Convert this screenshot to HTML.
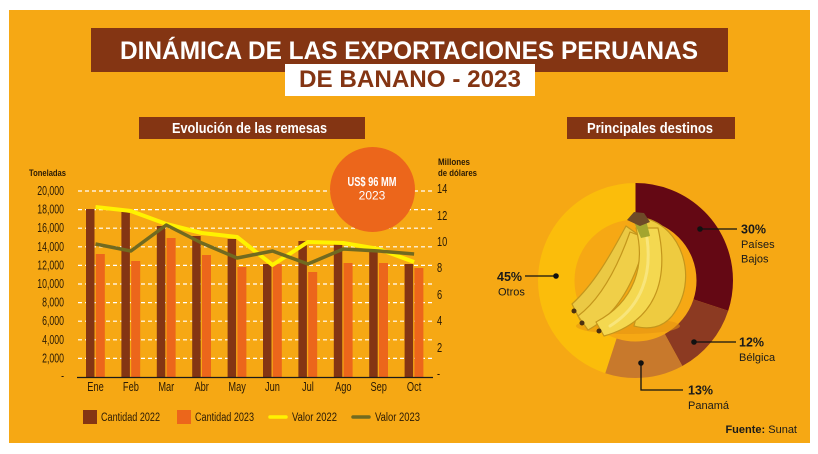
<!DOCTYPE html>
<html><head><meta charset="utf-8"><style>
html,body{margin:0;padding:0;background:#fff;}
svg{display:block;}
.n{font-family:"Liberation Sans Narrow","Liberation Sans",sans-serif;}
.s{font-family:"Liberation Sans",sans-serif;}
</style></head><body>
<svg width="818" height="454" viewBox="0 0 818 454" xmlns="http://www.w3.org/2000/svg">
<rect x="0" y="0" width="818" height="454" fill="#ffffff"/>
<rect x="9" y="10" width="801" height="433" fill="#f6a814"/>

<!-- Title -->
<rect x="91" y="28" width="637" height="44" fill="#843513"/>
<rect x="285" y="64" width="250" height="32" fill="#ffffff"/>
<text x="120" y="59" class="s" font-size="25" font-weight="bold" fill="#ffffff" textLength="578" lengthAdjust="spacingAndGlyphs">DINÁMICA DE LAS EXPORTACIONES PERUANAS</text>
<text x="299" y="87" class="s" font-size="24" font-weight="bold" fill="#843513" textLength="222" lengthAdjust="spacingAndGlyphs">DE BANANO - 2023</text>

<!-- Subtitles -->
<rect x="139" y="117" width="226" height="22" fill="#843513"/>
<text x="172" y="133" class="n" font-size="15" font-weight="bold" fill="#ffffff" textLength="155" lengthAdjust="spacingAndGlyphs">Evolución de las remesas</text>
<rect x="567" y="117" width="168" height="22" fill="#843513"/>
<text x="587" y="133" class="n" font-size="15" font-weight="bold" fill="#ffffff" textLength="126" lengthAdjust="spacingAndGlyphs">Principales destinos</text>

<!-- Axis titles -->
<text x="29" y="176" class="n" font-size="9.5" font-weight="bold" fill="#2a1a05" textLength="37" lengthAdjust="spacingAndGlyphs">Toneladas</text>
<text x="438" y="165" class="n" font-size="9.5" font-weight="bold" fill="#2a1a05" textLength="32" lengthAdjust="spacingAndGlyphs">Millones</text>
<text x="438" y="176" class="n" font-size="9.5" font-weight="bold" fill="#2a1a05" textLength="39" lengthAdjust="spacingAndGlyphs">de dólares</text>

<!-- Gridlines -->
<g stroke="#ffffff" stroke-width="1.2" stroke-dasharray="4 3">
<line x1="78" y1="191" x2="433" y2="191"/>
<line x1="78" y1="209.6" x2="433" y2="209.6"/>
<line x1="78" y1="228.2" x2="433" y2="228.2"/>
<line x1="78" y1="246.8" x2="433" y2="246.8"/>
<line x1="78" y1="265.4" x2="433" y2="265.4"/>
<line x1="78" y1="284" x2="433" y2="284"/>
<line x1="78" y1="302.6" x2="433" y2="302.6"/>
<line x1="78" y1="321.2" x2="433" y2="321.2"/>
<line x1="78" y1="339.8" x2="433" y2="339.8"/>
<line x1="78" y1="358.4" x2="433" y2="358.4"/>
</g>

<!-- Left axis labels -->
<g class="s" font-size="12.5" fill="#2a1a05" text-anchor="end">
<text transform="translate(64 195) scale(0.7 1)">20,000</text>
<text transform="translate(64 213.6) scale(0.7 1)">18,000</text>
<text transform="translate(64 232.2) scale(0.7 1)">16,000</text>
<text transform="translate(64 250.8) scale(0.7 1)">14,000</text>
<text transform="translate(64 269.4) scale(0.7 1)">12,000</text>
<text transform="translate(64 288) scale(0.7 1)">10,000</text>
<text transform="translate(64 306.6) scale(0.7 1)">8,000</text>
<text transform="translate(64 325.2) scale(0.7 1)">6,000</text>
<text transform="translate(64 343.8) scale(0.7 1)">4,000</text>
<text transform="translate(64 362.4) scale(0.7 1)">2,000</text>
<text transform="translate(64 380) scale(0.7 1)">-</text>
</g>
<!-- Right axis labels -->
<g class="s" font-size="12.5" fill="#2a1a05">
<text transform="translate(437 193) scale(0.74 1)">14</text>
<text transform="translate(437 220) scale(0.74 1)">12</text>
<text transform="translate(437 246) scale(0.74 1)">10</text>
<text transform="translate(437 272) scale(0.74 1)">8</text>
<text transform="translate(437 299) scale(0.74 1)">6</text>
<text transform="translate(437 325) scale(0.74 1)">4</text>
<text transform="translate(437 352) scale(0.74 1)">2</text>
<text transform="translate(437 378) scale(0.74 1)">-</text>
</g>

<!-- Bars -->
<g fill="#843513">
<rect x="86" y="209" width="8.5" height="168"/>
<rect x="121.4" y="212" width="8.5" height="165"/>
<rect x="156.8" y="226" width="8.5" height="151"/>
<rect x="192.2" y="236" width="8.5" height="141"/>
<rect x="227.6" y="239" width="8.5" height="138"/>
<rect x="263" y="264" width="8.5" height="113"/>
<rect x="298.4" y="241" width="8.5" height="136"/>
<rect x="333.8" y="244" width="8.5" height="133"/>
<rect x="369.2" y="250" width="8.5" height="127"/>
<rect x="404.6" y="264" width="8.5" height="113"/>
</g>
<g fill="#ec661b">
<rect x="95.8" y="254" width="9" height="123"/>
<rect x="131.2" y="261" width="9" height="116"/>
<rect x="166.6" y="238" width="9" height="139"/>
<rect x="202" y="255" width="9" height="122"/>
<rect x="237.4" y="267" width="9" height="110"/>
<rect x="272.8" y="264" width="9" height="113"/>
<rect x="308.2" y="272" width="9" height="105"/>
<rect x="343.6" y="263" width="9" height="114"/>
<rect x="379" y="263" width="9" height="114"/>
<rect x="414.4" y="268" width="9" height="109"/>
</g>

<!-- Axis line -->
<line x1="77" y1="377.5" x2="433" y2="377.5" stroke="#1a1a1a" stroke-width="1.3"/>

<!-- Lines -->
<polyline fill="none" stroke="#fff200" stroke-width="4" stroke-linejoin="round" points="95.5,207 130.9,211 166.3,224 201.7,233 237.1,237 272.5,265 307.9,242 343.3,243 378.7,249 414.1,262"/>
<polyline fill="none" stroke="#716a20" stroke-width="3.5" stroke-linejoin="round" points="95.5,244 130.9,251 166.3,225 201.7,243 237.1,258 272.5,251 307.9,264 343.3,249 378.7,251 414.1,254"/>

<!-- Month labels -->
<g class="s" font-size="12.5" fill="#2a1a05" text-anchor="middle">
<text transform="translate(95.5 391) scale(0.74 1)">Ene</text>
<text transform="translate(130.9 391) scale(0.74 1)">Feb</text>
<text transform="translate(166.3 391) scale(0.74 1)">Mar</text>
<text transform="translate(201.7 391) scale(0.74 1)">Abr</text>
<text transform="translate(237.1 391) scale(0.74 1)">May</text>
<text transform="translate(272.5 391) scale(0.74 1)">Jun</text>
<text transform="translate(307.9 391) scale(0.74 1)">Jul</text>
<text transform="translate(343.3 391) scale(0.74 1)">Ago</text>
<text transform="translate(378.7 391) scale(0.74 1)">Sep</text>
<text transform="translate(414.1 391) scale(0.74 1)">Oct</text>
</g>

<!-- Circle callout -->
<circle cx="372.5" cy="189.5" r="42.5" fill="#ec661b"/>
<text x="372" y="186" class="n" font-size="13" font-weight="bold" fill="#ffffff" text-anchor="middle" textLength="49" lengthAdjust="spacingAndGlyphs">US$ 96 MM</text>
<text x="372" y="199.5" class="n" font-size="12" fill="#ffffff" text-anchor="middle">2023</text>

<!-- Legend -->
<rect x="83" y="410" width="14" height="14" fill="#843513"/>
<text x="101" y="421" class="n" font-size="11.5" fill="#2a1a05" textLength="59" lengthAdjust="spacingAndGlyphs">Cantidad 2022</text>
<rect x="177" y="410" width="14" height="14" fill="#ec661b"/>
<text x="195" y="421" class="n" font-size="11.5" fill="#2a1a05" textLength="59" lengthAdjust="spacingAndGlyphs">Cantidad 2023</text>
<line x1="270" y1="417" x2="286" y2="417" stroke="#fff200" stroke-width="3.5" stroke-linecap="round"/>
<text x="292" y="421" class="n" font-size="11.5" fill="#2a1a05" textLength="45" lengthAdjust="spacingAndGlyphs">Valor 2022</text>
<line x1="353" y1="417" x2="369" y2="417" stroke="#716a20" stroke-width="3.5" stroke-linecap="round"/>
<text x="375" y="421" class="n" font-size="11.5" fill="#2a1a05" textLength="45" lengthAdjust="spacingAndGlyphs">Valor 2023</text>

<!-- Donut -->
<g transform="rotate(-90 635.5 280.5)" fill="none" stroke-width="36.5">
<circle cx="635.5" cy="280.5" r="79.25" stroke="#fbbd0b" stroke-dasharray="224.1 273.85" stroke-dashoffset="-273.85"/>
<circle cx="635.5" cy="280.5" r="79.25" stroke="#640814" stroke-dasharray="149.4 348.55" stroke-dashoffset="0"/>
<circle cx="635.5" cy="280.5" r="79.25" stroke="#8c3a22" stroke-dasharray="59.75 438.2" stroke-dashoffset="-149.4"/>
<circle cx="635.5" cy="280.5" r="79.25" stroke="#c8792c" stroke-dasharray="64.7 433.25" stroke-dashoffset="-209.15"/>
</g>

<!-- Bananas -->
<ellipse cx="628" cy="326" rx="52" ry="8" fill="#e39212" opacity="0.55"/>
<g stroke="#c4961c" stroke-width="1.2" stroke-linejoin="round">
<path d="M626,226 C610,256 594,284 572,304 L580,320 C606,302 626,270 640,236 Z" fill="#ebc944"/>
<path d="M630,232 C618,266 602,298 578,316 L588,330 C618,314 636,280 646,238 Z" fill="#f0cf48"/>
<path d="M644,218 C682,226 700,280 672,316 C662,328 648,330 634,326 L638,310 C660,294 666,262 644,238 Z" fill="#eecb40"/>
<path d="M636,228 C646,266 634,302 596,322 L604,336 C654,322 670,282 658,228 Z" fill="#f4d850"/>
</g>
<path d="M647,238 C652,274 642,306 610,326" fill="none" stroke="#fae98a" stroke-width="3" opacity="0.75" stroke-linecap="round"/>
<path d="M634,222 L641,238 L650,236 L646,220 Z" fill="#a3a52f"/>
<path d="M627,220 L634,212 L644,213 L650,222 L640,226 Z" fill="#6e4a28"/>
<circle cx="574" cy="311" r="2.5" fill="#4a3010"/>
<circle cx="582" cy="323" r="2.5" fill="#4a3010"/>
<circle cx="599" cy="331" r="2.5" fill="#4a3010"/>

<!-- Donut labels -->
<g stroke="#111" stroke-width="1.3" fill="none">
<line x1="700" y1="229" x2="737" y2="229"/>
<line x1="694" y1="342" x2="736" y2="342"/>
<polyline points="641,363 641,390 683,390"/>
<line x1="525" y1="276" x2="556" y2="276"/>
</g>
<g fill="#111">
<circle cx="700" cy="229" r="2.8"/>
<circle cx="694" cy="342" r="2.8"/>
<circle cx="641" cy="363" r="2.8"/>
<circle cx="556" cy="276" r="2.8"/>
</g>
<g class="s" fill="#1a1a1a">
<text x="741" y="233.5" font-size="12.5" font-weight="bold">30%</text>
<text x="741" y="248" font-size="11">Países</text>
<text x="741" y="262.5" font-size="11">Bajos</text>
<text x="739" y="346.5" font-size="12.5" font-weight="bold">12%</text>
<text x="739" y="361" font-size="11">Bélgica</text>
<text x="688" y="394.5" font-size="12.5" font-weight="bold">13%</text>
<text x="688" y="409" font-size="11">Panamá</text>
<text x="497" y="281" font-size="12.5" font-weight="bold">45%</text>
<text x="498" y="295.5" font-size="11">Otros</text>
<text x="797" y="433" font-size="11" text-anchor="end"><tspan font-weight="bold">Fuente:</tspan> Sunat</text>
</g>
</svg>
</body></html>
